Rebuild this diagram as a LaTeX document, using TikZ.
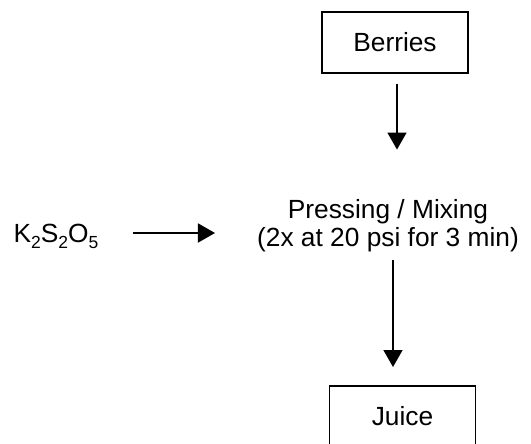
\documentclass[tikz,border=0pt]{standalone}
\usepackage{fontspec}
\setmainfont{Liberation Sans}
\usetikzlibrary{arrows.meta,positioning}
\newcommand{\chemsub}[1]{\raisebox{-6pt}{\fontsize{17.5}{17.5}\selectfont #1}}
\begin{document}
\begin{tikzpicture}[x=1pt,y=-1pt,font=\fontsize{26.3}{28}\selectfont,
  box/.style={draw,line width=1.5pt,minimum width=146pt,minimum height=61pt,inner sep=0pt},
  flow/.style={line width=1.6pt,-{Triangle[length=17pt,width=19pt]}}]
\useasboundingbox (0,0) rectangle (531,444);
\node[box] (berries) at (395,42.5) {Berries};
\node[align=center,inner sep=0pt] (mix) at (388,226) {Pressing / Mixing\\(2x at 20 psi for 3 min)};
\node[box,anchor=north] (juice) at (402.5,385) {Juice};
\node[inner sep=0pt] (salt) at (56,236) {K\chemsub{2}S\chemsub{2}O\chemsub{5}};
% arrows into and out of the press
\draw[flow,shorten <=10pt,shorten >=50pt] ([xshift=2pt]berries.south) -- ([xshift=2pt]berries.south |- mix.north);
\draw[flow,shorten <=34pt,shorten >=42pt] ([yshift=3pt]salt.east) -- ([yshift=3pt]salt.east -| mix.west);
\draw[flow,shorten <=8pt,shorten >=18pt] ([xshift=5pt]mix.south) -- ([xshift=5pt]mix.south |- juice.north);
\end{tikzpicture}
\end{document}
